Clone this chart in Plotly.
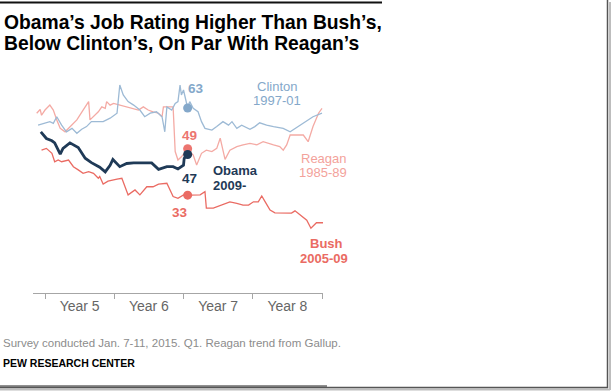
import plotly.graph_objects as go

# ---------------- data (years in office, approval %) ----------------
obama_x = [3.94, 4.02, 4.10, 4.14, 4.22, 4.26, 4.36, 4.48, 4.58, 4.67, 4.79, 4.87, 4.94, 4.98,
           5.08, 5.18, 5.28, 5.54, 5.64, 5.76, 5.85, 5.92, 6.00, 6.01, 6.06]
obama_y = [54.8, 52.5, 51.7, 51.0, 47.1, 49.1, 51.0, 49.4, 45.7, 44.2, 42.6, 41.0, 43.3, 45.3,
           42.8, 43.9, 44.1, 44.1, 41.9, 42.8, 42.8, 42.0, 43.3, 45.7, 47.0]

clinton_x = [3.90, 4.00, 4.07, 4.12, 4.17, 4.24, 4.31, 4.39, 4.46, 4.53, 4.60, 4.67, 4.75, 4.84,
             4.94, 5.04, 5.08, 5.13, 5.20, 5.28, 5.37, 5.44, 5.52, 5.61, 5.69, 5.73, 5.76, 5.83,
             5.88, 5.92, 5.95, 5.97, 6.00, 6.02, 6.06, 6.09, 6.14, 6.21, 6.26, 6.31, 6.41, 6.48,
             6.57, 6.65, 6.70, 6.77, 6.84, 6.96, 7.03, 7.10, 7.20, 7.30, 7.44, 7.54, 7.73, 7.87, 8.00]
clinton_y = [57.1, 57.9, 58.3, 57.7, 60.0, 57.1, 54.8, 56.0, 54.3, 55.7, 56.6, 58.3, 58.3, 58.3,
             59.5, 61.2, 70.9, 67.5, 65.2, 64.0, 62.3, 60.0, 61.2, 61.7, 60.0, 54.8, 63.4, 62.3,
             64.6, 65.2, 70.9, 67.5, 69.2, 66.9, 63.0, 65.2, 62.9, 61.7, 58.3, 56.0, 55.4, 56.6,
             58.3, 57.1, 58.3, 56.0, 57.1, 55.7, 56.6, 57.9, 57.1, 56.6, 56.0, 54.8, 57.7, 60.0, 61.2]

reagan_x = [3.88, 3.93, 3.95, 4.00, 4.07, 4.12, 4.17, 4.22, 4.29, 4.36, 4.46, 4.55, 4.63, 4.65,
            4.70, 4.77, 4.82, 4.87, 4.89, 4.94, 4.99, 5.08, 5.18, 5.28, 5.35, 5.42, 5.49, 5.56,
            5.64, 5.69, 5.71, 5.78, 5.85, 5.88, 5.92, 5.97, 6.06, 6.14, 6.19, 6.26, 6.33, 6.41,
            6.48, 6.53, 6.60, 6.67, 6.77, 6.86, 6.96, 7.06, 7.15, 7.30, 7.39, 7.44, 7.49, 7.54,
            7.63, 7.73, 7.80, 7.87, 7.95, 8.00]
reagan_y = [61.2, 62.5, 60.5, 62.3, 64.0, 62.3, 58.9, 56.0, 54.8, 56.6, 58.9, 62.3, 65.2, 58.9,
            60.0, 61.7, 63.4, 62.9, 65.2, 64.0, 64.6, 64.0, 63.4, 62.9, 62.3, 63.4, 62.3, 61.7,
            61.2, 60.0, 63.4, 63.4, 63.4, 48.0, 45.1, 46.2, 49.0, 46.8, 43.4, 47.4, 48.5, 48.0,
            49.1, 52.6, 45.3, 48.5, 49.7, 50.3, 50.8, 50.3, 51.4, 50.3, 49.7, 48.5, 50.3, 53.7,
            53.7, 53.7, 51.4, 56.6, 61.2, 62.9]

bush_x = [3.95, 4.02, 4.10, 4.14, 4.19, 4.24, 4.34, 4.41, 4.48, 4.55, 4.63, 4.70, 4.77, 4.79,
          4.84, 4.91, 5.04, 5.11, 5.20, 5.30, 5.37, 5.47, 5.56, 5.64, 5.76, 5.85, 5.92, 6.00,
          6.06, 6.14, 6.24, 6.31, 6.33, 6.43, 6.55, 6.67, 6.77, 6.86, 6.94, 7.01, 7.08, 7.13,
          7.18, 7.25, 7.32, 7.44, 7.56, 7.61, 7.71, 7.78, 7.84, 7.92, 8.02]
bush_y = [48.5, 49.1, 47.4, 44.5, 45.1, 44.5, 45.1, 42.8, 41.7, 40.5, 41.1, 40.5, 38.8, 39.4,
          36.8, 37.8, 38.5, 38.8, 33.1, 34.8, 33.1, 35.9, 35.9, 36.8, 37.1, 32.5, 31.9, 33.1,
          33.0, 33.1, 33.1, 34.2, 28.5, 28.5, 29.6, 30.7, 30.2, 29.6, 29.6, 30.7, 30.7, 32.7,
          30.7, 27.9, 26.9, 26.8, 26.8, 27.6, 25.8, 24.4, 21.6, 23.5, 23.5]

now_x = 6.06
now_values = {"Clinton": 63, "Reagan": 49, "Obama": 47, "Bush": 33}

year_ticks = [4, 5, 6, 7, 8]
year_label_pos = [4.5, 5.5, 6.5, 7.5]
year_labels = ["Year 5", "Year 6", "Year 7", "Year 8"]

# ---------------- styling ----------------
C_OBAMA = "#1f3a57"
C_CLINTON_LINE = "#9dbad5"
C_CLINTON_TXT = "#84a8ca"
C_REAGAN_LINE = "#f4aaa4"
C_REAGAN_TXT = "#f3a29b"
C_REAGAN_DOT = "#ec7570"
C_BUSH = "#ea6b63"
FONT = "Liberation Sans, Arial, sans-serif"

W, H = 611, 392
L, R, T, B = 33, 323, 70, 293  # plot area in pixels


def pxx(p):
    return (p - L) / (R - L)


def pxy(p):
    return (B - p) / (B - T)


fig = go.Figure()
fig.add_trace(go.Scatter(x=reagan_x, y=reagan_y, mode="lines",
                         line=dict(color=C_REAGAN_LINE, width=1.3), hoverinfo="skip"))
fig.add_trace(go.Scatter(x=bush_x, y=bush_y, mode="lines",
                         line=dict(color=C_BUSH, width=1.3), hoverinfo="skip"))
fig.add_trace(go.Scatter(x=clinton_x, y=clinton_y, mode="lines",
                         line=dict(color=C_CLINTON_LINE, width=1.3), hoverinfo="skip"))
fig.add_trace(go.Scatter(x=obama_x, y=obama_y, mode="lines",
                         line=dict(color=C_OBAMA, width=2.8), hoverinfo="skip"))
fig.add_trace(go.Scatter(
    x=[now_x] * 4,
    y=[now_values["Clinton"], now_values["Reagan"], now_values["Obama"], now_values["Bush"]],
    mode="markers",
    marker=dict(size=9, color=[C_CLINTON_TXT, C_REAGAN_DOT, C_OBAMA, C_BUSH]),
    hoverinfo="skip"))

y0 = 63 - (B - 108) / 2.905
y1 = 63 - (T - 108) / 2.905

fig.update_layout(
    width=W, height=H, autosize=False,
    margin=dict(l=L, r=W - R, t=T, b=H - B, pad=0),
    paper_bgcolor="white", plot_bgcolor="white",
    showlegend=False,
    hovermode=False,
    font=dict(family=FONT),
    xaxis=dict(range=[4 + (L - 45) / 69.25, 4 + (R - 45) / 69.25],
               showgrid=False, zeroline=False,
               showline=True, linecolor="#a6a6a6", linewidth=1,
               tickvals=year_label_pos, ticktext=year_labels, ticks="",
               tickfont=dict(size=14, color="#666666", family=FONT),
               minor=dict(tickvals=year_ticks, ticks="outside", ticklen=5,
                          tickcolor="#a6a6a6", tickwidth=1, showgrid=False)),
    yaxis=dict(range=[y0, y1], visible=False, showgrid=False, zeroline=False),
)

ann = []


def text(s, x, y, size, color, bold=False, xanchor="center"):
    ann.append(dict(text=("<b>%s</b>" % s) if bold else s, x=pxx(x), y=pxy(y),
                    xref="paper", yref="paper", xanchor=xanchor, yanchor="middle",
                    showarrow=False, font=dict(size=size, color=color, family=FONT)))


# title
text("Obama’s Job Rating Higher Than Bush’s,", 2, 22, 19.3, "#000000", bold=True, xanchor="left")
text("Below Clinton’s, On Par With Reagan’s", 2, 43, 19.3, "#000000", bold=True, xanchor="left")

# series labels
text("63", 196, 88.5, 13.5, C_CLINTON_TXT, bold=True)
text("Clinton", 276.5, 86, 13, C_CLINTON_TXT)
text("1997-01", 277, 100.5, 13, C_CLINTON_TXT)
text("49", 189.5, 135.5, 13.5, C_REAGAN_DOT, bold=True)
text("Reagan", 324, 158, 13, C_REAGAN_TXT)
text("1985-89", 323, 172.5, 13, C_REAGAN_TXT)
text("Obama", 211, 170.5, 13, C_OBAMA, bold=True, xanchor="left")
text("2009-", 211, 185.5, 13, C_OBAMA, bold=True, xanchor="left")
text("47", 189.5, 178, 13.5, C_OBAMA, bold=True)
text("33", 180, 212, 13.5, C_BUSH, bold=True)
text("Bush", 326.5, 243, 13, C_BUSH, bold=True)
text("2005-09", 324, 258, 13, C_BUSH, bold=True)

# footer
text("Survey conducted Jan. 7-11, 2015. Q1. Reagan trend from Gallup.", 1, 343, 11.5,
     "#8c8c8c", xanchor="left")
text("PEW RESEARCH CENTER", 1, 362.5, 10.5, "#000000", bold=True, xanchor="left")

fig.update_layout(annotations=ann)

# frame decorations
shapes = []


def hline(x0, x1, y, color, width):
    shapes.append(dict(type="line", xref="paper", yref="paper", layer="above",
                       x0=pxx(x0), x1=pxx(x1), y0=pxy(y), y1=pxy(y),
                       line=dict(color=color, width=width)))


def vline(x, y0_, y1_, color, width):
    shapes.append(dict(type="line", xref="paper", yref="paper", layer="above",
                       x0=pxx(x), x1=pxx(x), y0=pxy(y0_), y1=pxy(y1_),
                       line=dict(color=color, width=width)))


hline(0, 382, 2.5, "#111111", 2)
hline(0, 610, 389.5, "#bdbdbd", 2)
vline(610, 2, 390, "#bdbdbd", 2)
hline(0, 608, 387.5, "#555555", 1.5)
vline(607.5, 0, 388, "#555555", 1.5)
hline(0, 327, 386, "#222222", 1.2)
fig.update_layout(shapes=shapes)

fig.write_html(
    "out.html",
    config={"displayModeBar": False, "staticPlot": True},
    post_script="document.body.style.margin='0px';document.body.style.overflow='hidden';",
)
